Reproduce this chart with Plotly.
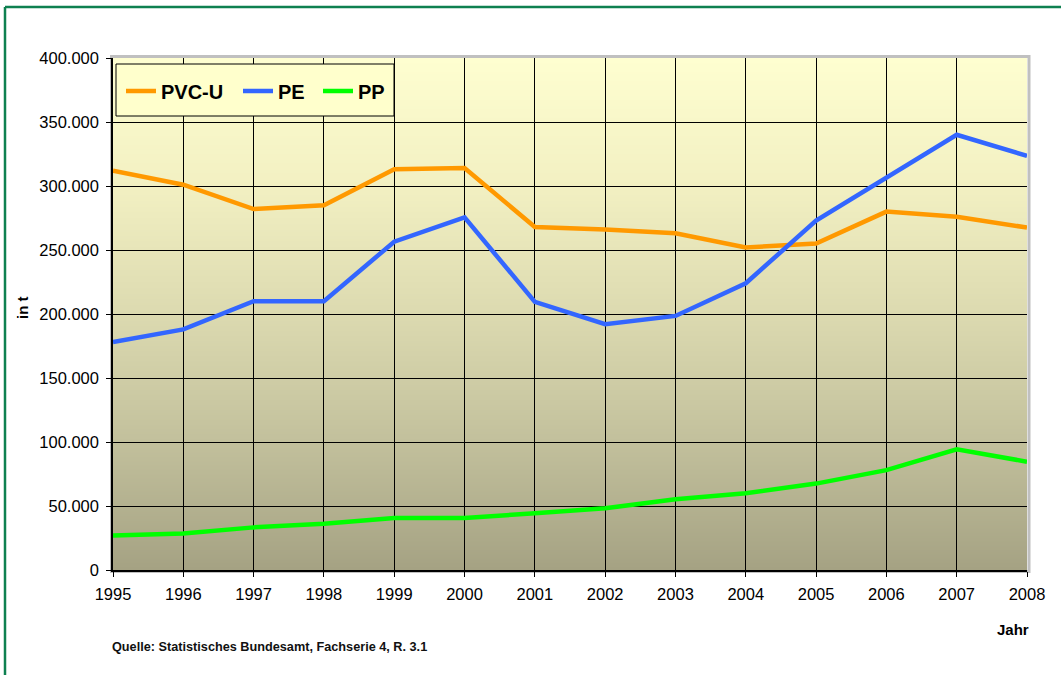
import base64
import struct
import zlib

import plotly.graph_objects as go

# ---------------- data ----------------
years = [1995, 1996, 1997, 1998, 1999, 2000, 2001, 2002, 2003, 2004, 2005, 2006, 2007, 2008]
pvc_u = [312000, 301000, 282000, 285000, 313000, 314000, 268000, 266000, 263000, 252000, 255000, 280000, 276000, 267500]
pe = [178000, 188000, 210000, 210000, 256500, 275500, 209500, 192000, 198500, 224000, 273000, 306500, 340000, 323500]
pp = [27000, 28500, 33300, 36200, 40600, 40600, 44300, 48200, 55200, 60000, 67500, 78000, 94300, 84600]
y_ticks = [0, 50000, 100000, 150000, 200000, 250000, 300000, 350000, 400000]

# ---------------- layout geometry (pixels) ----------------
W, H = 1061, 675
L, R, T, B = 113, 1027, 58, 570  # plot area edges


def px(x):
    return (x - L) / (R - L)


def py(y):
    return (B - y) / (B - T)


# ---------------- gradient background image ----------------
stops = [
    (0.00, (0xFE, 0xFE, 0xD0)),
    (0.25, (0xF2, 0xF0, 0xC2)),
    (0.50, (0xDC, 0xDA, 0xB0)),
    (0.75, (0xC2, 0xC0, 0x9C)),
    (1.00, (0xA5, 0xA2, 0x83)),
]


def grad(t):
    for (t0, c0), (t1, c1) in zip(stops[:-1], stops[1:]):
        if t0 <= t <= t1:
            f = (t - t0) / (t1 - t0)
            return tuple(int(round(a + (b - a) * f)) for a, b in zip(c0, c1))
    return stops[-1][1]


def make_png(nrows):
    raw = b""
    for i in range(nrows):
        r, g, b = grad(i / (nrows - 1))
        raw += b"\x00" + bytes([r, g, b])

    def chunk(tag, data):
        c = struct.pack(">I", len(data)) + tag + data
        return c + struct.pack(">I", zlib.crc32(tag + data) & 0xFFFFFFFF)

    png = b"\x89PNG\r\n\x1a\n"
    png += chunk(b"IHDR", struct.pack(">IIBBBBB", 1, nrows, 8, 2, 0, 0, 0))
    png += chunk(b"IDAT", zlib.compress(raw))
    png += chunk(b"IEND", b"")
    return "data:image/png;base64," + base64.b64encode(png).decode()


bg_src = make_png(512)

# ---------------- figure ----------------
fig = go.Figure()
series = [("PVC-U", pvc_u, "#FF9900", "legend", 121),
          ("PE", pe, "#3366FF", "legend2", 238),
          ("PP", pp, "#00FF00", "legend3", 318)]
for name, vals, col, lg, _ in series:
    fig.add_trace(go.Scatter(
        x=years, y=vals, name=name, mode="lines",
        line=dict(color=col, width=4.5),
        cliponaxis=False, legend=lg,
    ))

tick_font = dict(family="Liberation Sans, Arial, sans-serif", size=16.5, color="#000000")
legend_font = dict(family="Liberation Sans, Arial, sans-serif", size=20, color="#000000", weight="bold")

legend_defs = {}
for name, vals, col, lg, lx in series:
    legend_defs[lg] = dict(
        orientation="h", x=px(lx), y=py(91), xanchor="left", yanchor="middle",
        bgcolor="rgba(0,0,0,0)", borderwidth=0, font=legend_font,
        itemwidth=30,
    )

fig.update_layout(
    width=W, height=H,
    margin=dict(l=L, r=W - R, t=T, b=H - B, pad=0),
    paper_bgcolor="#FFFFFF",
    plot_bgcolor="rgba(0,0,0,0)",
    separators=",.",
    showlegend=True,
    xaxis=dict(
        range=[years[0], years[-1]], tickvals=years, ticktext=[str(y) for y in years],
        showgrid=True, gridcolor="#000000", gridwidth=1,
        showline=True, linecolor="#000000", linewidth=1.5,
        ticks="outside", ticklen=5, tickcolor="#000000", tickwidth=1,
        tickfont=tick_font, zeroline=False, fixedrange=True,
        ticklabelstandoff=3,
    ),
    yaxis=dict(
        range=[0, 400000], tickvals=y_ticks, tickformat=",d",
        showgrid=True, gridcolor="#000000", gridwidth=1,
        showline=True, linecolor="#000000", linewidth=1.5,
        ticks="outside", ticklen=5, tickcolor="#000000", tickwidth=1,
        tickfont=tick_font, zeroline=False, fixedrange=True,
        ticklabelstandoff=4,
    ),
    images=[dict(
        source=bg_src, xref="paper", yref="paper", x=0, y=1,
        sizex=1, sizey=1, sizing="stretch", xanchor="left", yanchor="top",
        layer="below",
    )],
    **legend_defs,
)

shapes = [
    # gray frame around plot area
    dict(type="rect", xref="paper", yref="paper", x0=px(111.5), x1=px(1029), y0=py(571.5), y1=py(56.5),
         line=dict(color="#C0C0C0", width=3), layer="below"),
    # legend box
    dict(type="rect", xref="paper", yref="paper", x0=px(116), x1=px(394), y0=py(116), y1=py(64),
         line=dict(color="#000000", width=1), fillcolor="#FFFFCC", layer="above"),
    # outer green border (top + left)
    dict(type="line", xref="paper", yref="paper", x0=px(5), x1=px(1070), y0=py(7), y1=py(7),
         line=dict(color="#0E8050", width=2.5)),
    dict(type="line", xref="paper", yref="paper", x0=px(5), x1=px(5), y0=py(7), y1=py(690),
         line=dict(color="#0E8050", width=2.5)),
]
fig.update_layout(shapes=shapes)

annotations = [
    dict(text="in t", xref="paper", yref="paper", x=px(22), y=py(308), textangle=-90,
         showarrow=False, xanchor="center", yanchor="middle",
         font=dict(family="Liberation Sans, Arial, sans-serif", size=15, color="#000000", weight="bold")),
    dict(text="Jahr", xref="paper", yref="paper", x=px(1013), y=py(629),
         showarrow=False, xanchor="center", yanchor="middle",
         font=dict(family="Liberation Sans, Arial, sans-serif", size=15, color="#000000", weight="bold")),
    dict(text="Quelle: Statistisches Bundesamt, Fachserie 4, R. 3.1", xref="paper", yref="paper",
         x=px(110), y=py(647), showarrow=False, xanchor="left", yanchor="middle",
         font=dict(family="Liberation Sans Narrow, Liberation Sans, Arial, sans-serif", size=12.7,
                   color="#111111", weight="bold")),
]
fig.update_layout(annotations=annotations)

fig.write_html(
    "out.html",
    config={"displayModeBar": False},
    post_script="document.body.style.margin='0';document.body.style.padding='0';",
)
